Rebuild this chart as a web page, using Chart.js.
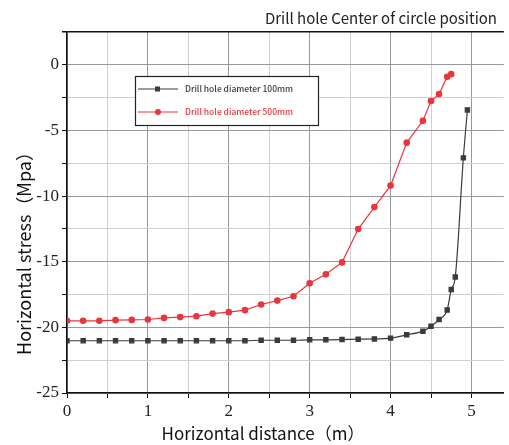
<!DOCTYPE html>
<html>
<head>
<meta charset="utf-8">
<script src="https://cdn.jsdelivr.net/npm/chart.js@4/dist/chart.umd.min.js"></script>
<style>
  html, body { margin: 0; padding: 0; background: #fff; }
  #wrap { width: 509px; height: 445px; }
</style>
</head>
<body>
<div id="wrap"><canvas id="myChart"></canvas></div>
<script>
// data
const xSmall = [0, 0.2, 0.4, 0.6, 0.8, 1.0, 1.2, 1.4, 1.6, 1.8, 2.0, 2.2, 2.4, 2.6, 2.8, 3.0, 3.2, 3.4, 3.6, 3.8, 4.0, 4.2, 4.4, 4.5, 4.6, 4.7, 4.75, 4.8, 4.9, 4.95];
const ySmall = [-21.02, -21.02, -21.02, -21.02, -21.02, -21.02, -21.02, -21.02, -21.02, -21.02, -21.02, -21.02, -20.98, -20.98, -20.98, -20.95, -20.95, -20.93, -20.9, -20.88, -20.82, -20.57, -20.29, -19.91, -19.4, -18.67, -17.12, -16.16, -7.09, -3.44];

const xLarge = [0, 0.2, 0.4, 0.6, 0.8, 1.0, 1.2, 1.4, 1.6, 1.8, 2.0, 2.2, 2.4, 2.6, 2.8, 3.0, 3.2, 3.4, 3.6, 3.8, 4.0, 4.2, 4.4, 4.5, 4.6, 4.7, 4.75];
const yLarge = [-19.5, -19.5, -19.5, -19.45, -19.43, -19.4, -19.28, -19.22, -19.15, -18.95, -18.84, -18.69, -18.26, -17.96, -17.63, -16.64, -15.96, -15.05, -12.51, -10.84, -9.2, -5.93, -4.26, -2.76, -2.23, -0.91, -0.71];

const seriesNames = ['Drill hole diameter 100mm', 'Drill hole diameter 500mm'];
const chartTitle = 'Drill hole Center of circle position';
const xTitle = 'Horizontal distance\uFF08m\uFF09';
const yTitle = 'Horizontal stress\uFF08Mpa\uFF09';

const toPoints = (xs, ys) => xs.map((x, i) => ({ x: x, y: ys[i] }));

const sansFont = '"Noto Sans CJK SC", "Noto Sans", sans-serif';
const serifFont = '"Liberation Serif"';

Chart.defaults.font.family = serifFont;

// legend box + titles drawn on top of the chart
const extras = {
    id: 'extras',
    afterDraw(chart) {
        const ctx = chart.ctx;
        ctx.save();
        // title
        ctx.fillStyle = '#222';
        ctx.font = '15px ' + sansFont;
        ctx.textAlign = 'right';
        ctx.textBaseline = 'middle';
        ctx.fillText(chartTitle, 497, 18);
        // axis titles
        ctx.fillStyle = '#111';
        ctx.font = '17px ' + sansFont;
        ctx.textAlign = 'center';
        ctx.fillText(xTitle, 263, 434);
        ctx.translate(24, 249);
        ctx.rotate(-Math.PI / 2);
        ctx.font = '18px ' + sansFont;
        ctx.fillText(yTitle, 0, 0);
        ctx.restore();

        // legend
        ctx.save();
        const bx = 135, by = 76, bw = 183, bh = 49;
        ctx.fillStyle = '#fff';
        ctx.fillRect(bx, by, bw, bh);
        ctx.strokeStyle = '#222';
        ctx.lineWidth = 1.2;
        ctx.strokeRect(bx + 0.5, by + 0.5, bw, bh);
        chart.data.datasets.forEach((ds, i) => {
            const ly = by + 13 + i * 23;
            ctx.strokeStyle = ds.borderColor;
            ctx.lineWidth = 1;
            ctx.beginPath();
            ctx.moveTo(bx + 3, ly);
            ctx.lineTo(bx + 43, ly);
            ctx.stroke();
            ctx.fillStyle = ds.backgroundColor;
            if (ds.pointStyle === 'rect') {
                ctx.fillRect(bx + 20, ly - 2.5, 5, 5);
            } else {
                ctx.beginPath();
                ctx.arc(bx + 23, ly, 3, 0, Math.PI * 2);
                ctx.fill();
            }
            ctx.fillStyle = ds.borderColor;
            ctx.font = '500 8.5px ' + sansFont;
            ctx.textAlign = 'left';
            ctx.textBaseline = 'middle';
            ctx.fillText(ds.label, bx + 50, ly);
        });
        ctx.restore();
    }
};

const ctx = document.getElementById('myChart');
const myChart = new Chart(ctx, {
    type: 'line',
    data: {
        datasets: [{
            label: seriesNames[0],
            data: toPoints(xSmall, ySmall),
            borderColor: '#3b3b3b',
            backgroundColor: '#3b3b3b',
            borderWidth: 1.2,
            pointStyle: 'rect',
            pointRadius: 3,
            cubicInterpolationMode: 'monotone',
        }, {
            label: seriesNames[1],
            data: toPoints(xLarge, yLarge),
            borderColor: '#e8363d',
            backgroundColor: '#e8363d',
            borderWidth: 1.2,
            pointStyle: 'circle',
            pointRadius: 2.7,
        }]
    },
    options: {
        responsive: true,
        maintainAspectRatio: false,
        animation: false,
        layout: {
            padding: { top: 32, right: 0, left: 0, bottom: 0 },
        },
        plugins: {
            legend: { display: false },
            title: { display: false },
            tooltip: { enabled: false },
        },
        scales: {
            x: {
                type: 'linear',
                min: 0,
                max: 5.4,
                afterFit: (scale) => { scale.height = 52; },
                border: { color: '#111', width: 1.5 },
                grid: {
                    color: (c) => (Number.isInteger(c.tick.value) ? '#999' : '#cfcfcf'),
                    tickColor: '#111',
                    tickLength: 5,
                    lineWidth: 1,
                },
                ticks: {
                    stepSize: 0.5,
                    includeBounds: false,
                    maxRotation: 0,
                    autoSkip: false,
                    padding: 3,
                    color: '#222',
                    font: { family: serifFont, size: 17 },
                    callback: (v) => (Number.isInteger(v) ? String(v) : ''),
                },
            },
            y: {
                type: 'linear',
                min: -25,
                max: 2.5,
                afterFit: (scale) => { scale.width = 67; },
                border: { color: '#111', width: 1.5 },
                grid: {
                    color: (c) => {
                        const v = c.tick.value;
                        if (v === 2.5) return '#111';
                        return v % 5 === 0 ? '#999' : '#cfcfcf';
                    },
                    tickColor: '#111',
                    tickLength: 5,
                    lineWidth: (c) => (c.tick.value === 2.5 ? 1.5 : 1),
                },
                ticks: {
                    stepSize: 2.5,
                    autoSkip: false,
                    padding: 3,
                    color: '#222',
                    font: { family: serifFont, size: 17 },
                    callback: (v) => (v % 5 === 0 ? String(v) : ''),
                },
            },
        },
    },
    plugins: [extras],
});
</script>
</body>
</html>
